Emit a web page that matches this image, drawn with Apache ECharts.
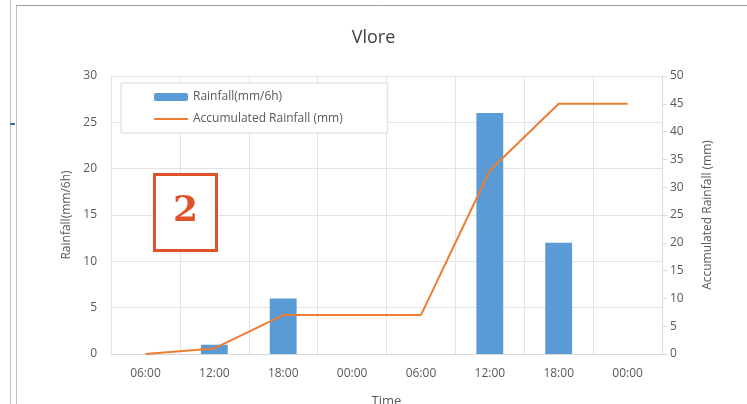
<!DOCTYPE html>
<html>
<head>
<meta charset="utf-8">
<script src="https://cdn.jsdelivr.net/npm/echarts@6/dist/echarts.min.js"></script>
<style>
  html, body { margin: 0; padding: 0; background: #fff; }
  #chart { width: 747px; height: 404px; }
</style>
</head>
<body>
<div id="chart"></div>
<script>
const times = ["06:00", "12:00", "18:00", "00:00", "06:00", "12:00", "18:00", "00:00"];
const rainfall = [0, 1, 6, 0, 0, 26, 12, 0];
const accumulated = [0, 1, 7, 7, 7, 33, 45, 45];
const leftTicks = { min: 0, max: 30, interval: 5 };
const rightTicks = { min: 0, max: 50, interval: 5 };

const font = "'Open Sans', sans-serif";
const grey = "#595959";

const myChart = echarts.init(document.getElementById("chart"));
myChart.setOption({
  animation: false,
  textStyle: { fontFamily: font },
  title: {
    text: "Vlore",
    left: "center",
    top: 24,
    textStyle: { fontSize: 18, fontWeight: "normal", color: "#404040", fontFamily: font },
  },
  legend: {
    orient: "vertical",
    left: 121,
    top: 83,
    padding: [8, 45, 8, 32],
    itemGap: 10,
    itemWidth: 34,
    itemHeight: 8,
    backgroundColor: "#fff",
    borderColor: "#d9d9d9",
    borderWidth: 1,
    textStyle: { color: grey, fontSize: 12, fontFamily: font },
    data: [
      { name: "Rainfall(mm/6h)" },
      { name: "Accumulated Rainfall (mm)", itemStyle: { opacity: 0 } },
    ],
  },
  grid: { left: 111, right: 85, top: 76, bottom: 50, outerBoundsMode: "none" },
  xAxis: {
    type: "category",
    data: times,
    name: "Time",
    nameLocation: "middle",
    nameGap: 41,
    nameTextStyle: { color: grey, fontSize: 13 },
    axisLine: { lineStyle: { color: "#d9d9d9" } },
    axisTick: { show: false },
    axisLabel: { color: grey, fontSize: 12, margin: 14 },
    splitLine: { show: true, lineStyle: { color: "#e3e3e3" } },
  },
  yAxis: [
    {
      type: "value",
      min: leftTicks.min,
      max: leftTicks.max,
      interval: leftTicks.interval,
      name: "Rainfall(mm/6h)",
      nameLocation: "middle",
      nameGap: 38,
      nameTextStyle: { color: grey, fontSize: 12 },
      axisLine: { show: false },
      axisTick: { show: false },
      axisLabel: { color: grey, fontSize: 12, margin: 14 },
      splitLine: { lineStyle: { color: "#e3e3e3" } },
    },
    {
      type: "value",
      min: rightTicks.min,
      max: rightTicks.max,
      interval: rightTicks.interval,
      name: "Accumulated Rainfall (mm)",
      nameLocation: "middle",
      nameGap: 40,
      nameTextStyle: { color: grey, fontSize: 12 },
      axisLine: { show: true, lineStyle: { color: "#d9d9d9" } },
      axisTick: { show: true, length: 5, lineStyle: { color: "#d9d9d9" } },
      axisLabel: { color: grey, fontSize: 12, margin: 8 },
      splitLine: { show: false },
    },
  ],
  series: [
    {
      name: "Rainfall(mm/6h)",
      type: "bar",
      data: rainfall,
      barWidth: "39%",
      itemStyle: { color: "#5b9bd5" },
    },
    {
      name: "Accumulated Rainfall (mm)",
      type: "line",
      yAxisIndex: 1,
      data: accumulated,
      symbol: "none",
      lineStyle: { color: "#ed7d31", width: 2 },
      itemStyle: { color: "#ed7d31" },
    },
  ],
  graphic: [
    { type: "line", shape: { x1: 10.5, y1: 0, x2: 10.5, y2: 404 }, style: { stroke: "#bfbfbf", lineWidth: 1 } },
    { type: "line", shape: { x1: 16.5, y1: 5, x2: 16.5, y2: 404 }, style: { stroke: "#bfbfbf", lineWidth: 1 } },
    { type: "line", shape: { x1: 16, y1: 5.5, x2: 747, y2: 5.5 }, style: { stroke: "#9a9a9a", lineWidth: 1 } },
    { type: "line", shape: { x1: 10, y1: 124, x2: 15, y2: 124 }, style: { stroke: "#2e75b6", lineWidth: 2 } },
    { type: "rect", shape: { x: 154.5, y: 174.5, width: 62, height: 76 }, style: { fill: "#fff", stroke: "#e0522a", lineWidth: 3 }, z: 100 },
    {
      type: "text",
      x: 185.5,
      y: 212,
      z: 101,
      style: {
        text: "2",
        fill: "#e0522a",
        font: "bold 36px 'DejaVu Serif', 'Liberation Serif', serif",
        align: "center",
        verticalAlign: "middle",
      },
    },
  ],
});
</script>
</body>
</html>
